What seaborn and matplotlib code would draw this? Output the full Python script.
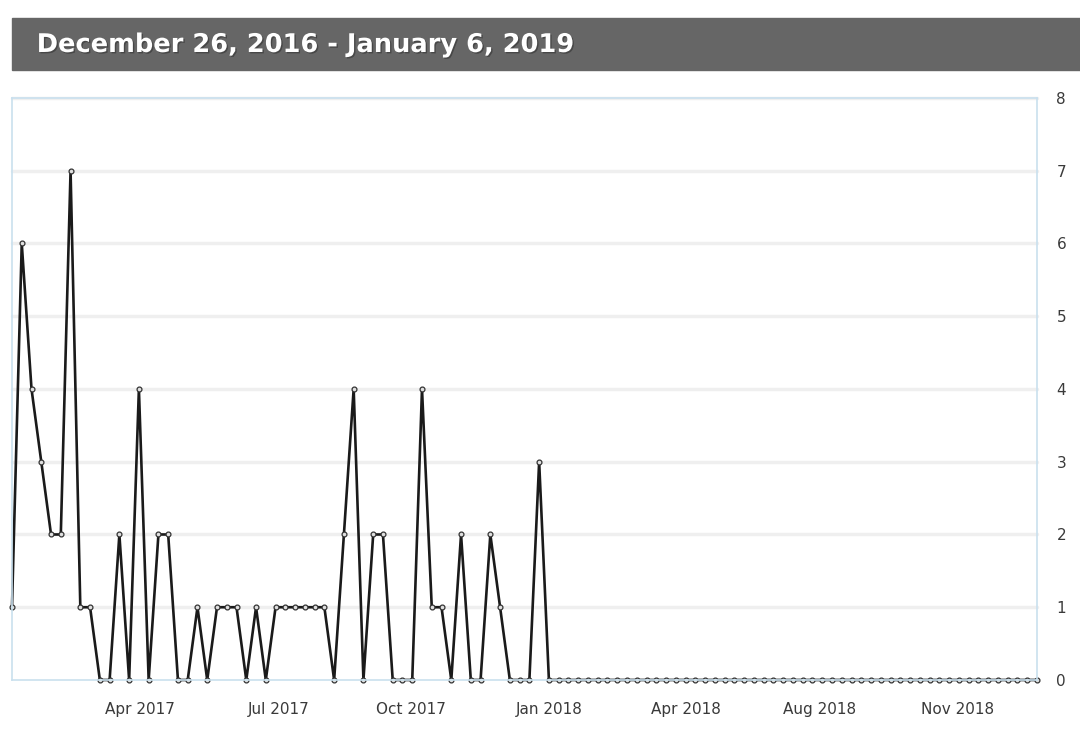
import pandas as pd
import matplotlib.pyplot as plt
import matplotlib.patheffects as pe
import seaborn as sns

# weekly counts, week starting Dec 26, 2016
start_date = "2016-12-26"
weekly_counts = [
    1, 6, 4, 3, 2, 2, 7, 1, 1, 0, 0, 2, 0, 4, 0, 2, 2, 0, 0, 1,
    0, 1, 1, 1, 0, 1, 0, 1, 1, 1, 1, 1, 1, 0, 2, 4, 0, 2, 2, 0,
    0, 0, 4, 1, 1, 0, 2, 0, 0, 2, 1, 0, 0, 0, 3, 0, 0, 0, 0, 0,
    0, 0, 0, 0, 0, 0, 0, 0, 0, 0, 0, 0, 0, 0, 0, 0, 0, 0, 0, 0,
    0, 0, 0, 0, 0, 0, 0, 0, 0, 0, 0, 0, 0, 0, 0, 0, 0, 0, 0, 0,
    0, 0, 0, 0, 0, 0,
]
tick_dates = ["2017-03-28", "2017-07-05", "2017-10-08", "2018-01-15",
              "2018-04-23", "2018-07-28", "2018-11-04"]
tick_labels = ["Apr 2017", "Jul 2017", "Oct 2017", "Jan 2018",
               "Apr 2018", "Aug 2018", "Nov 2018"]
title = "December 26, 2016 - January 6, 2019"

df = pd.DataFrame({
    "week": pd.date_range(start_date, periods=len(weekly_counts), freq="7D"),
    "count": weekly_counts,
})

sns.set_style("white")
plt.rcParams["font.family"] = ["DejaVu Sans"]

fig = plt.figure(figsize=(10.8, 7.34), dpi=100)
ax = fig.add_axes([0.0111, 0.0736, 0.9491, 0.7929])

# grey header bar with title
fig.patches.append(plt.Rectangle((0.0111, 0.9046), 0.9889, 0.0709,
                                 transform=fig.transFigure, color="#666666",
                                 zorder=0))
fig.text(0.034, 0.9387, title, color="white", fontsize=18.5, fontweight="heavy",
         va="center", ha="left",
         path_effects=[pe.withSimplePatchShadow(offset=(1, -1),
                                                shadow_rgbFace="#333333",
                                                alpha=0.6)])

for y in range(1, 9):
    ax.axhline(y, color="#efefef", lw=2.5, zorder=0)

sns.lineplot(data=df, x="week", y="count", ax=ax, color="#1a1a1a", lw=1.9,
             marker="o", markersize=3.5, markerfacecolor="#e0e0e0",
             markeredgecolor="#333333", markeredgewidth=0.9)

ax.set_xlim(df["week"].iloc[0], df["week"].iloc[-1])
ax.set_ylim(0, 8)
ax.set_yticks(range(0, 9))
ax.yaxis.tick_right()
ax.set_xticks(pd.to_datetime(tick_dates))
ax.set_xticklabels(tick_labels)
ax.tick_params(axis="both", length=0, labelsize=11, colors="#3a3a3a")
ax.tick_params(axis="x", pad=16)
ax.tick_params(axis="y", pad=14)
ax.set_xlabel("")
ax.set_ylabel("")
for side in ["left", "right", "top", "bottom"]:
    ax.spines[side].set_color("#c9e0ee")
    ax.spines[side].set_linewidth(1.2)
    ax.spines[side].set_visible(True)
for line in ax.lines:
    line.set_clip_on(False)

plt.savefig("out.png", dpi=100)
